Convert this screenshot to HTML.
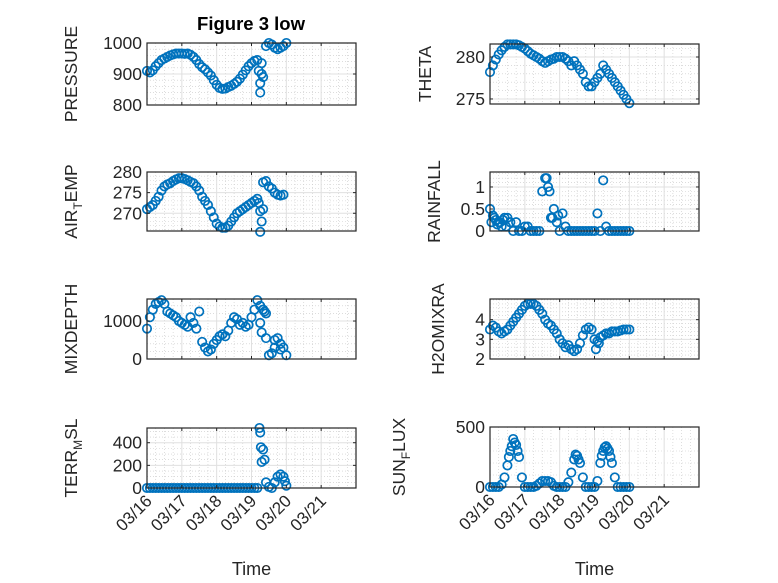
<!DOCTYPE html>
<html><head><meta charset="utf-8"><style>
html,body{margin:0;padding:0;background:#fff;}
svg{display:block;font-family:"Liberation Sans",sans-serif;}
</style></head><body>
<svg id="fig" width="778" height="583" viewBox="0 0 778 583"></svg>
<script>
// ---------- data (hours since 03/16 00:00) ----------
const P_T=[0,2,4,6,8,10,12,14,16,18,20,22,24,26,28,30,32,34,36,38,40,42,44,46,48,50,52,54,56,58,60,62,64,66,68,70,72,74,76,77,78,78,79,79,80,82,84,86,88,90,92,94,96];
const P_V=[910,905,912,925,935,945,950,955,960,963,966,966,966,965,966,962,955,945,932,922,915,905,895,880,865,855,852,853,858,862,868,875,885,898,912,925,935,942,945,910,870,840,935,900,890,990,1000,995,985,980,985,990,1000];
const A_T=[0,2,4,6,8,10,12,14,16,18,20,22,24,26,28,30,32,34,36,38,40,42,44,46,48,50,52,54,56,58,60,62,64,66,68,70,72,74,76,77,78,78,79,80,80,82,84,86,88,90,92,94];
const A_V=[271,271.5,272,273,274,275.5,276.5,277,277.3,277.8,278.2,278.5,278.5,278.3,278,277.6,277.3,276.5,275.5,274,273,272,270.5,269,267.5,266.8,266.5,266.5,267,268,269,270,270.5,271,271.5,272,272.5,273,273.5,272.5,270.5,265.5,268,271,277.5,277.8,276.5,276,275,274.5,274.3,274.5];
const H2=[0,2,4,6,8,10,12,14,16,18,20,22,24,26,28,30,32,34,36,38,40,42,44,46,48,50,52,54,56,58,60,62,64,66,68,70,72,74,76,78,80,82,84,86,88,90,92,94,96];
const TH_V=[278.2,279,279.7,280.3,280.8,281.2,281.5,281.5,281.5,281.5,281.4,281.2,281,280.7,280.4,280.2,280,279.8,279.5,279.3,279.5,279.7,279.8,280,280,280,279.8,279.5,279,279.5,279,278.5,278,277,276.5,276.5,277,277.5,278,279,278.5,278,277.5,277,276.5,276,275.5,275,274.5];
const R_T=[0,2,4,6,8,10,12,14,16,18,20,22,24,26,28,30,32,34,36,38,40,42,44,46,48,50,52,54,56,58,60,62,64,66,68,70,72,74,76,78,80,82,84,86,88,90,92,94,96,1,3,5,7,9,11,39,41,43,47];
const R_V=[0.5,0.35,0.25,0.2,0.1,0.3,0.3,0.2,0,0.2,0,0,0.1,0.1,0,0,0,0,0.9,1.2,1.0,0.3,0.5,0.2,0,0.4,0.1,0,0,0,0,0,0,0,0,0,0,0.4,0,1.15,0.1,0,0,0,0,0,0,0,0,0.2,0.3,0.15,0.2,0.25,0.1,1.2,0.9,0.3,0.35];
const M_T=[0,2,4,6,8,10,12,14,16,18,20,22,24,26,28,30,32,34,36,38,40,42,44,46,48,50,52,54,56,58,60,62,64,66,68,70,72,74,76,78,80,82,84,86,88,90,92,94,96,78,79,80,81,82,88,92];
const M_V=[800,1100,1300,1450,1500,1550,1450,1250,1200,1150,1100,1000,950,900,850,1100,950,800,1250,450,300,200,250,400,500,600,650,600,750,950,1100,1050,900,950,850,900,1100,1300,1550,1400,1300,1200,100,150,300,550,400,300,100,950,700,1300,1250,550,500,250];
const T_T=[0,2,4,6,8,10,12,14,16,18,20,22,24,26,28,30,32,34,36,38,40,42,44,46,48,50,52,54,56,58,60,62,64,66,68,70,72,74,76,77.5,78,78.5,79,80,81,82,84,86,88,90,92,94,95,96];
const T_V=[0,0,0,0,0,0,0,0,0,0,0,0,0,0,0,0,0,0,0,0,0,0,0,0,0,0,0,0,0,0,0,0,0,0,0,0,0,0,0,530,490,360,230,340,250,50,10,0,50,100,120,100,60,20];
const W_T=[0,2,4,6,8,10,12,14,16,18,20,22,24,26,28,30,32,34,36,38,40,42,44,46,48,50,52,54,56,58,60,62,64,66,68,70,72,74,76,78,80,82,84,86,88,90,92,94,96,73,75];
const W_V=[3.5,3.7,3.6,3.4,3.3,3.4,3.5,3.7,3.9,4.1,4.3,4.5,4.7,4.8,4.8,4.8,4.7,4.5,4.3,4.0,3.8,3.7,3.5,3.3,3.0,2.8,2.6,2.7,2.5,2.4,2.5,2.8,3.2,3.5,3.6,3.5,3.0,2.9,3.1,3.2,3.3,3.3,3.4,3.4,3.4,3.45,3.5,3.5,3.5,2.5,2.8];
const S_T=[0,2,4,6,8,10,12,14,16,18,20,22,24,26,28,30,32,34,36,38,40,42,44,46,48,50,52,54,56,58,60,62,64,66,68,70,72,74,76,78,80,82,84,86,88,90,92,94,96,13,15,17,19,59,61,77,79,81,83];
const S_V=[0,0,0,0,20,80,180,300,400,350,250,80,0,0,0,0,10,30,50,50,50,40,10,0,0,0,0,40,120,230,260,200,80,0,0,0,0,50,200,300,340,300,200,80,0,0,0,0,0,250,340,370,300,270,230,260,330,320,250];
const X_TICKS=["03/16","03/17","03/18","03/19","03/20","03/21"];

const NS="http://www.w3.org/2000/svg";
const svg=document.getElementById('fig');
function mk(tag,attrs,parent){const e=document.createElementNS(NS,tag);for(const k in attrs)e.setAttribute(k,attrs[k]);(parent||svg).appendChild(e);return e;}

const panels=[
 {id:'pressure',x:147,y:43,h:62,ymin:800,ymax:1000,yt:[800,900,1000],minor:20,t:P_T,v:P_V,lab:['PRESSURE'],lx:77},
 {id:'theta',x:490,y:44,h:60,ymin:274.4,ymax:281.55,yt:[275,280],minor:1,t:H2,v:TH_V,lab:['THETA'],lx:431},
 {id:'air-temp',x:147,y:172,h:59,ymin:265.7,ymax:280,yt:[270,275,280],minor:1,t:A_T,v:A_V,lab:['AIR','T','EMP'],lx:77},
 {id:'rainfall',x:490,y:172,h:59,ymin:0,ymax:1.34,yt:[0,0.5,1],minor:0.1,t:R_T,v:R_V,lab:['RAINFALL'],lx:440},
 {id:'mixdepth',x:147,y:299,h:60,ymin:0,ymax:1580,yt:[0,1000],minor:200,t:M_T,v:M_V,lab:['MIXDEPTH'],lx:77},
 {id:'h2omixra',x:490,y:299,h:60,ymin:2,ymax:5.05,yt:[2,3,4],minor:0.2,t:W_T,v:W_V,lab:['H2OMIXRA'],lx:444},
 {id:'terr-msl',x:147,y:428,h:60,ymin:0,ymax:530,yt:[0,200,400],minor:50,t:T_T,v:T_V,lab:['TERR','M','SL'],lx:77,xl:true},
 {id:'sun-flux',x:490,y:427,h:60,ymin:0,ymax:500,yt:[0,500],minor:100,t:S_T,v:S_V,lab:['SUN','F','LUX'],lx:405,xl:true},
];
const W=209;
panels.forEach(p=>{
  const H=p.h;
  const bottom=p.y+H;
  const g=mk('g',{});
  
  
  const xs=h=>p.x+h/144*W;
  const ys=v=>bottom-(v-p.ymin)/(p.ymax-p.ymin)*H;
  mk('rect',{x:p.x,y:p.y,width:W,height:H,fill:'#fff'},g);
  for(let h=6;h<144;h+=6){ if(h%24===0)continue; mk('line',{x1:xs(h),x2:xs(h),y1:p.y,y2:bottom,stroke:'#c8c8c8','stroke-width':0.6,'stroke-dasharray':'1,2'},g);}
  const st=Math.ceil(p.ymin/p.minor)*p.minor;
  for(let v=st;v<p.ymax;v+=p.minor){ if(p.yt.some(t=>Math.abs(t-v)<1e-6))continue; mk('line',{x1:p.x,x2:p.x+W,y1:ys(v),y2:ys(v),stroke:'#c8c8c8','stroke-width':0.6,'stroke-dasharray':'1,2'},g);}
  for(let d=1;d<6;d++) mk('line',{x1:xs(d*24),x2:xs(d*24),y1:p.y,y2:bottom,stroke:'#e0e0e0','stroke-width':1},g);
  p.yt.forEach(v=>mk('line',{x1:p.x,x2:p.x+W,y1:ys(v),y2:ys(v),stroke:'#e0e0e0','stroke-width':1},g));
  const n=Math.min(p.t.length,p.v.length);
  for(let i=0;i<n;i++){
    const c=mk('circle',{cx:xs(p.t[i]),cy:ys(p.v[i]),r:4.2,fill:'none',stroke:'#0072BD','stroke-width':1.7},g);
    
    
  }
  mk('rect',{x:p.x,y:p.y,width:W,height:H,fill:'none',stroke:'#262626','stroke-width':1.2},g);
  for(let d=0;d<=6;d++){const x=xs(d*24);mk('line',{x1:x,x2:x,y1:bottom,y2:bottom-3,stroke:'#262626'},g);mk('line',{x1:x,x2:x,y1:p.y,y2:p.y+3,stroke:'#262626'},g);}
  p.yt.forEach(v=>{
    mk('line',{x1:p.x,x2:p.x+3,y1:ys(v),y2:ys(v),stroke:'#262626'},g);
    mk('line',{x1:p.x+W,x2:p.x+W-3,y1:ys(v),y2:ys(v),stroke:'#262626'},g);
    const t=mk('text',{x:p.x-5,y:ys(v)+6,'text-anchor':'end','font-size':17.5,fill:'#262626'},g);
    t.textContent=String(v);
    
    
  });
  const cy=p.y+H/2;
  const yl=mk('text',{x:p.lx,y:cy,'text-anchor':'middle','font-size':17.5,fill:'#262626',transform:`rotate(-90 ${p.lx} ${cy})`},g);
  
  
  if(p.lab.length===1){yl.textContent=p.lab[0];}
  else{
    const a=mk('tspan',{},yl);a.textContent=p.lab[0];
    const b=mk('tspan',{'font-size':12,dy:5},yl);b.textContent=p.lab[1];
    const c=mk('tspan',{dy:-5},yl);c.textContent=p.lab[2];
  }
  if(p.xl){
    X_TICKS.forEach((lb,d)=>{
      const x=xs(d*24)+6,y=bottom+14;
      const t=mk('text',{x:x,y:y,'text-anchor':'end','font-size':17,fill:'#262626',transform:`rotate(-45 ${x} ${y})`},g);
      t.textContent=lb;
      
      
    });
    const xl=mk('text',{x:p.x+W/2,y:575,'text-anchor':'middle','font-size':18,fill:'#262626'},g);
    xl.textContent='Time';
    
    
  }
});
const title=mk('text',{x:251,y:30,'text-anchor':'middle','font-size':18.5,'font-weight':'bold',fill:'#000'});
title.textContent='Figure 3 low';


</script>
</body></html>
